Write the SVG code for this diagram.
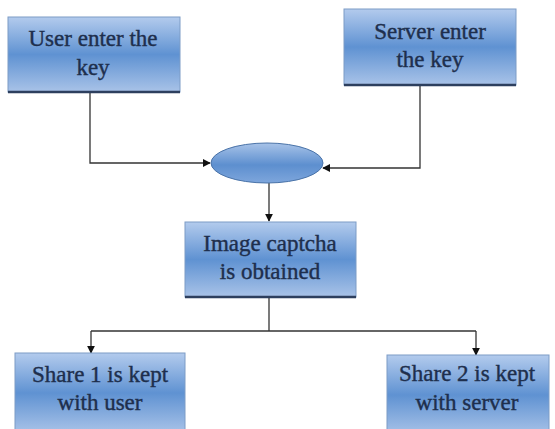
<svg xmlns="http://www.w3.org/2000/svg" width="555" height="429" viewBox="0 0 555 429">
<defs>
<linearGradient id="g" x1="0" y1="0" x2="0" y2="1">
<stop offset="0" stop-color="#b3cbed"/>
<stop offset="0.5" stop-color="#5f92d2"/>
<stop offset="1" stop-color="#a9c3e8"/>
</linearGradient>
<linearGradient id="ge" x1="0" y1="0" x2="0" y2="1">
<stop offset="0" stop-color="#a8c3e8"/>
<stop offset="0.55" stop-color="#5d8fcf"/>
<stop offset="1" stop-color="#7ea6dc"/>
</linearGradient>
<marker id="ah" viewBox="0 0 10 10" refX="9" refY="5" markerWidth="6" markerHeight="6" orient="auto">
<path d="M0,0 L10,5 L0,10 z" fill="#111"/>
</marker>
</defs>
<style>
.box{fill:url(#g);stroke:#7d9cc6;stroke-width:1}
.sh{stroke:#2d3f5e;stroke-width:2.5}
.t{font-family:"Liberation Serif",serif;font-size:23px;fill:#1e2f4d;stroke:#1e2f4d;stroke-width:0.4;text-anchor:middle}
.c{fill:none;stroke:#333;stroke-width:1.3}
</style>
<rect width="555" height="429" fill="#fff"/>
<g id="conn">
<path class="c" d="M90,92 V163 H210" marker-end="url(#ah)"/>
<path class="c" d="M420,86 V168 H323" marker-end="url(#ah)"/>
<path class="c" d="M269,183 V221" marker-end="url(#ah)"/>
<path class="c" d="M269,297 V331"/>
<path class="c" d="M91,331 H476"/>
<path class="c" d="M91,331 V353" marker-end="url(#ah)"/>
<path class="c" d="M476,331 V355" marker-end="url(#ah)"/>
</g>
<g id="n1">
<rect class="box" x="8" y="17" width="172" height="75"/>
<line class="sh" x1="8" y1="92" x2="180" y2="92"/>
<text class="t" x="93" y="46">User enter the</text>
<text class="t" x="93" y="75">key</text>
</g>
<g id="n2">
<rect class="box" x="344" y="9" width="172" height="76"/>
<line class="sh" x1="344" y1="85" x2="516" y2="85"/>
<text class="t" x="430" y="39">Server enter</text>
<text class="t" x="430" y="67">the key</text>
</g>
<g id="n3">
<ellipse cx="267" cy="163" rx="56" ry="20" fill="url(#ge)" stroke="#4a73a8" stroke-width="1"/>
</g>
<g id="n4">
<rect class="box" x="185" y="222" width="171" height="75"/>
<line class="sh" x1="185" y1="297" x2="356" y2="297"/>
<text class="t" x="270" y="251">Image captcha</text>
<text class="t" x="270" y="279">is obtained</text>
</g>
<g id="n5">
<rect class="box" x="15" y="353" width="170" height="80"/>
<text class="t" x="100" y="382">Share 1 is kept</text>
<text class="t" x="100" y="410">with user</text>
</g>
<g id="n6">
<rect class="box" x="387" y="355" width="162" height="80"/>
<text class="t" x="467" y="381">Share 2 is kept</text>
<text class="t" x="467" y="410">with server</text>
</g>
</svg>
